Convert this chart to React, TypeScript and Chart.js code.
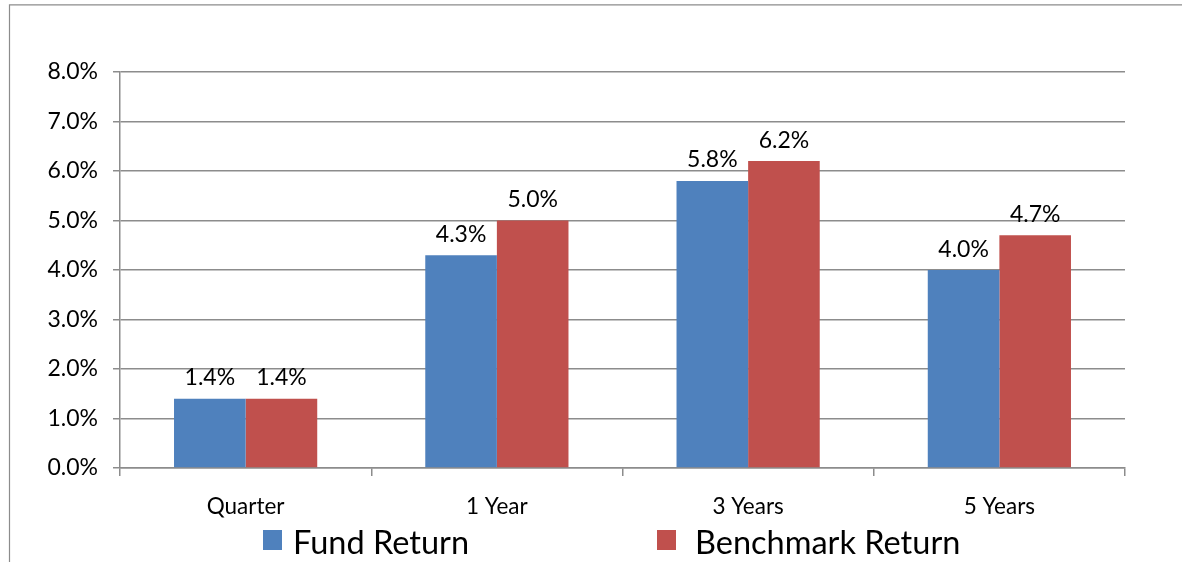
import React, { useEffect, useRef } from 'react';
import { Chart, registerables } from 'chart.js';

Chart.register(...registerables);

// ---- data ----
const categories = ['Quarter', '1 Year', '3 Years', '5 Years'];
const fundReturn = [1.4, 4.3, 5.8, 4.0];
const benchmarkReturn = [1.4, 5.0, 6.2, 4.7];
const yTickValues = [0, 1, 2, 3, 4, 5, 6, 7, 8];
const seriesNames = ['Fund Return', 'Benchmark Return'];
const seriesColors = ['#4F81BD', '#C0504D'];

// ---- layout / style ----
const W = 1182;
const H = 562;
const FONT = "Lato, 'Noto Sans', sans-serif";
const GRID = '#8c8c8c';
const legendBoxX = [263, 657];
const legendTextGap = [11, 19];

const fmt = (v: number) => v.toFixed(1) + '%';

const framePlugin = {
  id: 'frame',
  beforeDraw(chart: any) {
    const ctx = chart.ctx;
    ctx.save();
    ctx.strokeStyle = GRID;
    ctx.lineWidth = 1.2;
    ctx.beginPath();
    ctx.moveTo(9.5, H);
    ctx.lineTo(9.5, 4.8);
    ctx.lineTo(W, 4.8);
    ctx.stroke();
    ctx.restore();
  },
};

const dataLabelPlugin = {
  id: 'dataLabels',
  afterDatasetsDraw(chart: any) {
    const ctx = chart.ctx;
    ctx.save();
    ctx.font = `23px ${FONT}`;
    ctx.fillStyle = '#000';
    ctx.textAlign = 'center';
    ctx.textBaseline = 'alphabetic';
    chart.data.datasets.forEach((ds: any, i: number) => {
      const meta = chart.getDatasetMeta(i);
      meta.data.forEach((el: any, j: number) => {
        ctx.fillText(fmt(ds.data[j]), el.x, el.y - 13.5);
      });
    });
    ctx.restore();
  },
};

const legendPlugin = {
  id: 'customLegend',
  afterDraw(chart: any) {
    const ctx = chart.ctx;
    ctx.save();
    ctx.font = `32.5px ${FONT}`;
    ctx.textBaseline = 'alphabetic';
    ctx.textAlign = 'left';
    chart.data.datasets.forEach((ds: any, i: number) => {
      const bx = legendBoxX[i];
      ctx.fillStyle = ds.backgroundColor;
      ctx.fillRect(bx, 530, 19, 20);
      ctx.fillStyle = '#000';
      ctx.fillText(ds.label, bx + 19 + legendTextGap[i], 554);
    });
    ctx.restore();
  },
};

export default function App() {
  const ref = useRef<HTMLCanvasElement | null>(null);

  useEffect(() => {
    if (!ref.current) return;
    const chart = new Chart(ref.current, {
      type: 'bar',
      data: {
        labels: categories,
        datasets: [
          {
            label: seriesNames[0],
            data: fundReturn,
            backgroundColor: seriesColors[0],
            borderWidth: 0,
            categoryPercentage: 0.57,
            barPercentage: 1.0,
          },
          {
            label: seriesNames[1],
            data: benchmarkReturn,
            backgroundColor: seriesColors[1],
            borderWidth: 0,
            categoryPercentage: 0.57,
            barPercentage: 1.0,
          },
        ],
      },
      options: {
        responsive: false,
        animation: false,
        layout: { padding: { left: 0, top: 72, right: 57, bottom: 0 } },
        plugins: {
          legend: { display: false },
          tooltip: { enabled: false },
        },
        scales: {
          x: {
            grid: {
              display: true,
              offset: true,
              drawOnChartArea: false,
              drawTicks: true,
              tickLength: 8,
              color: GRID,
              lineWidth: 1.5,
            },
            border: { display: true, color: GRID, width: 1.5 },
            ticks: {
              color: '#000',
              font: { family: FONT, size: 22.5 },
              padding: 17,
              maxRotation: 0,
              autoSkip: false,
            },
            afterFit: (s: any) => {
              s.height = H - 468;
            },
          },
          y: {
            min: yTickValues[0],
            max: yTickValues[yTickValues.length - 1],
            grid: {
              display: true,
              color: GRID,
              lineWidth: 1.5,
              drawTicks: true,
              tickLength: 7,
            },
            border: { display: true, color: GRID, width: 1.5 },
            ticks: {
              stepSize: yTickValues[1] - yTickValues[0],
              color: '#000',
              font: { family: FONT, size: 23 },
              padding: 15,
              callback: (v: any) => fmt(Number(v)),
            },
            afterFit: (s: any) => {
              s.width = 120;
            },
          },
        },
      },
      plugins: [framePlugin, dataLabelPlugin, legendPlugin],
    });
    return () => chart.destroy();
  }, []);

  return (
    <div style={{ position: 'absolute', left: 0, top: 0, width: W, height: H, background: '#fff' }}>
      <canvas ref={ref} width={W} height={H} style={{ display: 'block' }} />
    </div>
  );
}
